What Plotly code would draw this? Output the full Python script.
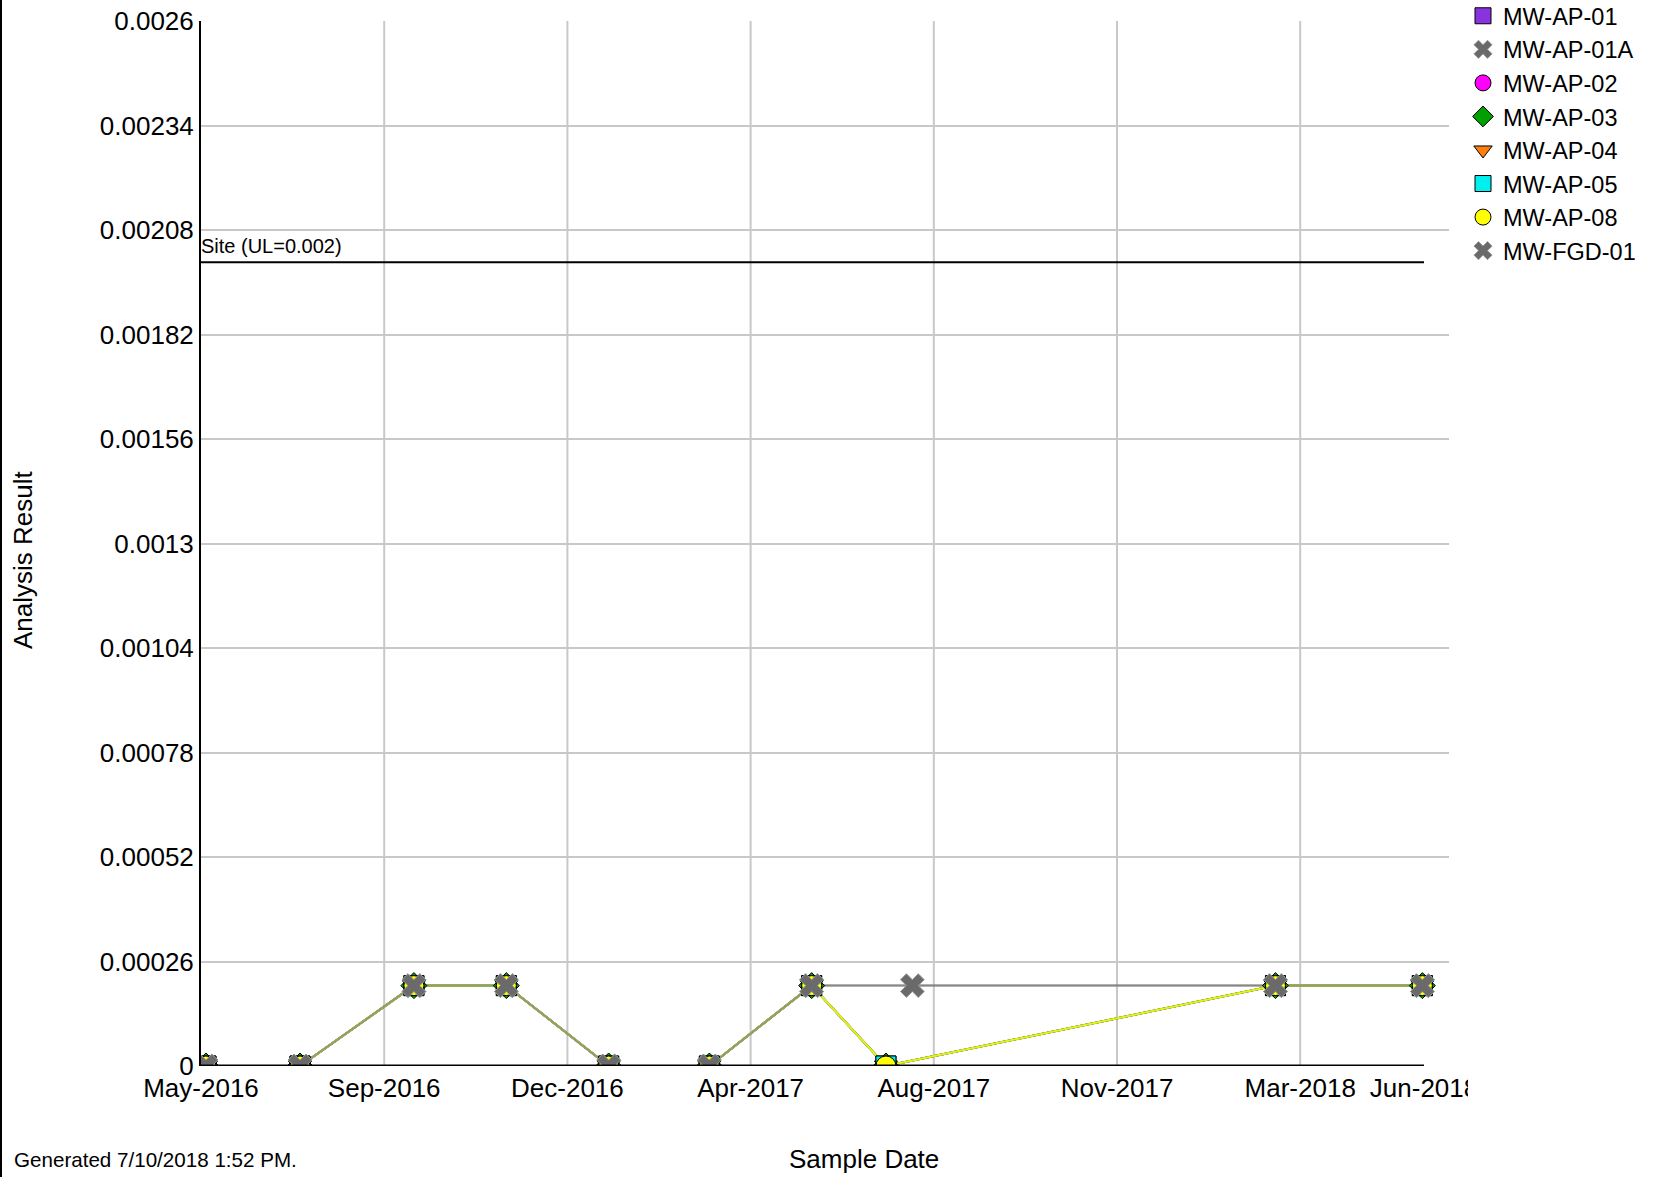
import plotly.graph_objects as go
from datetime import datetime, timedelta

# ---- data ---------------------------------------------------------------
sample_dates = ["2016-05-25", "2016-07-21", "2016-09-28", "2016-11-23", "2017-01-24",
                "2017-03-26", "2017-05-27", "2017-07-11", "2018-03-04", "2018-06-01"]
ap_values = [0, 0, 0.0002, 0.0002, 0, 0, 0.0002, 0, 0.0002, 0.0002]

ap01a_dates = ["2016-05-25", "2016-07-21", "2016-09-28", "2016-11-23", "2017-01-24",
               "2017-03-26", "2017-05-27", "2018-03-04", "2018-06-01"]
ap01a_values = [0, 0, 0.0002, 0.0002, 0, 0, 0.0002, 0.0002, 0.0002]

fgd_dates = ["2016-05-25", "2016-07-21", "2016-09-28", "2016-11-23", "2017-01-24",
             "2017-03-26", "2017-05-27", "2017-07-27", "2018-03-04", "2018-06-01"]
fgd_values = [0, 0, 0.0002, 0.0002, 0, 0, 0.0002, 0.0002, 0.0002, 0.0002]

well_names = ["MW-AP-01", "MW-AP-01A", "MW-AP-02", "MW-AP-03", "MW-AP-04",
              "MW-AP-05", "MW-AP-08", "MW-FGD-01"]

x_tick_dates = ["2016-05-22", "2016-09-10", "2016-12-30", "2017-04-20",
                "2017-08-09", "2017-11-28", "2018-03-19", "2018-06-02"]
x_tick_labels = ["May-2016", "Sep-2016", "Dec-2016", "Apr-2017",
                 "Aug-2017", "Nov-2017", "Mar-2018", "Jun-2018"]

y_tick_vals = [0, 0.00026, 0.00052, 0.00078, 0.00104, 0.0013,
               0.00156, 0.00182, 0.00208, 0.00234, 0.0026]
y_tick_labels = ["0", "0.00026", "0.00052", "0.00078", "0.00104", "0.0013",
                 "0.00156", "0.00182", "0.00208", "0.00234", "0.0026"]

site_limit = 0.002

# ---- styling ------------------------------------------------------------
FONT = "Liberation Sans, Arial, sans-serif"
W, H = 1656, 1177
ML, MR, MT, MB = 201, 207, 21, 111
PW, PH = W - ML - MR, H - MT - MB

def paper_x(px):
    return (px - ML) / PW

def paper_y(py):
    return (H - MB - py) / PH

series_style = {
    "MW-AP-01":  dict(symbol="square", color="#8833dd", line="#8833dd"),
    "MW-AP-01A": dict(symbol="x", color="#6a6a6a", line="#808080"),
    "MW-AP-02":  dict(symbol="circle", color="#ff00ff", line="#ff00ff"),
    "MW-AP-03":  dict(symbol="diamond", color="#00a000", line="#00a000"),
    "MW-AP-04":  dict(symbol="triangle-down", color="#ff7f0e", line="#e07010"),
    "MW-AP-05":  dict(symbol="square", color="#00f0f0", line="#00d8e0"),
    "MW-AP-08":  dict(symbol="circle", color="#ffff00", line="#f0f000"),
    "MW-FGD-01": dict(symbol="x", color="#6a6a6a", line="#808080"),
}

series_data = {
    "MW-AP-01": (sample_dates, ap_values),
    "MW-AP-01A": (ap01a_dates, ap01a_values),
    "MW-AP-02": (sample_dates, ap_values),
    "MW-AP-03": (sample_dates, ap_values),
    "MW-AP-04": (sample_dates, ap_values),
    "MW-AP-05": (sample_dates, ap_values),
    "MW-AP-08": (sample_dates, ap_values),
    "MW-FGD-01": (fgd_dates, fgd_values),
}

fig = go.Figure()

# connecting lines first, markers on top
for name in well_names:
    xs, ys = series_data[name]
    st = series_style[name]
    is_x = st["symbol"] == "x"
    fig.add_trace(go.Scatter(
        x=xs, y=ys, mode="lines", showlegend=False, hoverinfo="skip",
        line=dict(color=st["line"], width=2),
        opacity=0.75 if is_x else 1.0,
    ))

for name in well_names:
    xs, ys = series_data[name]
    st = series_style[name]
    is_x = st["symbol"] == "x"
    fig.add_trace(go.Scatter(
        x=xs, y=ys, mode="markers", name=name,
        marker=dict(symbol=st["symbol"], size=21 if is_x else 20, color=st["color"],
                    line=dict(color="#9a9a9a" if is_x else "#000000", width=1)),
    ))

# axis range: start at the first tick, leave a short gap after the last one
d0 = datetime.strptime(x_tick_dates[0], "%Y-%m-%d")
d_last = datetime.strptime(x_tick_dates[-1], "%Y-%m-%d")
span_days = (d_last - d0).days
px_per_day = (1424 - ML) / span_days
d_end = d0 + timedelta(days=PW / px_per_day)

shapes = []
# vertical grid lines (none at the closing tick)
for d in x_tick_dates[1:-1]:
    shapes.append(dict(type="line", xref="x", yref="paper", x0=d, x1=d, y0=0, y1=1,
                       line=dict(color="#c8c8c8", width=2), layer="below"))
# bottom axis line up to the last tick
shapes.append(dict(type="line", xref="x", yref="y", x0=x_tick_dates[0], x1=x_tick_dates[-1],
                   y0=0, y1=0, line=dict(color="#000000", width=3), layer="above"))
# site limit line
shapes.append(dict(type="line", xref="x", yref="y", x0=x_tick_dates[0], x1=x_tick_dates[-1],
                   y0=site_limit, y1=site_limit, line=dict(color="#000000", width=2), layer="above"))
# left page border
shapes.append(dict(type="line", xref="paper", yref="paper", x0=paper_x(1), x1=paper_x(1),
                   y0=paper_y(H), y1=paper_y(0), line=dict(color="#000000", width=2)))
# trim the date labels at the right edge of the chart block
shapes.append(dict(type="rect", xref="paper", yref="paper", x0=paper_x(1468), x1=paper_x(1600),
                   y0=paper_y(1060), y1=paper_y(1070 + 45), fillcolor="#ffffff",
                   line=dict(width=0), layer="above"))

annotations = [
    dict(text="Site (UL=0.002)", xref="x", yref="y", x=x_tick_dates[0], y=site_limit,
         xanchor="left", yanchor="bottom", showarrow=False, yshift=3, xshift=-2,
         font=dict(family=FONT, size=20, color="#000000")),
    dict(text="Analysis Result", xref="paper", yref="paper", x=paper_x(23), y=paper_y(560),
         xanchor="center", yanchor="middle", textangle=-90, showarrow=False,
         font=dict(family=FONT, size=26, color="#000000")),
    dict(text="Sample Date", xref="paper", yref="paper", x=paper_x(864), y=paper_y(1159),
         xanchor="center", yanchor="middle", showarrow=False,
         font=dict(family=FONT, size=26, color="#000000")),
    dict(text="Generated 7/10/2018 1:52 PM.", xref="paper", yref="paper", x=paper_x(12),
         y=paper_y(1159), xanchor="left", yanchor="middle", showarrow=False,
         font=dict(family=FONT, size=20.6, color="#000000")),
]

fig.update_layout(
    width=W, height=H,
    margin=dict(l=ML, r=MR, t=MT, b=MB, autoexpand=False),
    paper_bgcolor="#ffffff", plot_bgcolor="#ffffff",
    font=dict(family=FONT, size=26, color="#000000"),
    showlegend=True,
    legend=dict(x=paper_x(1463), y=paper_y(-6), xanchor="left", yanchor="top",
                font=dict(family=FONT, size=23.5, color="#000000"),
                bgcolor="rgba(0,0,0,0)", borderwidth=0, itemclick=False),
    xaxis=dict(type="date", range=[d0, d_end], tickmode="array",
               tickvals=x_tick_dates, ticktext=x_tick_labels, showgrid=False,
               showline=False, zeroline=False, ticks="", ticklabelstandoff=4,
               tickfont=dict(family=FONT, size=26, color="#000000")),
    yaxis=dict(range=[0, 0.0026], tickmode="array", tickvals=y_tick_vals,
               ticktext=y_tick_labels, showgrid=True, gridcolor="#c8c8c8", gridwidth=2,
               showline=True, linecolor="#000000", linewidth=2, zeroline=False, ticks="",
               tickfont=dict(family=FONT, size=26, color="#000000")),
    shapes=shapes,
    annotations=annotations,
)

fig.write_html("out.html")
